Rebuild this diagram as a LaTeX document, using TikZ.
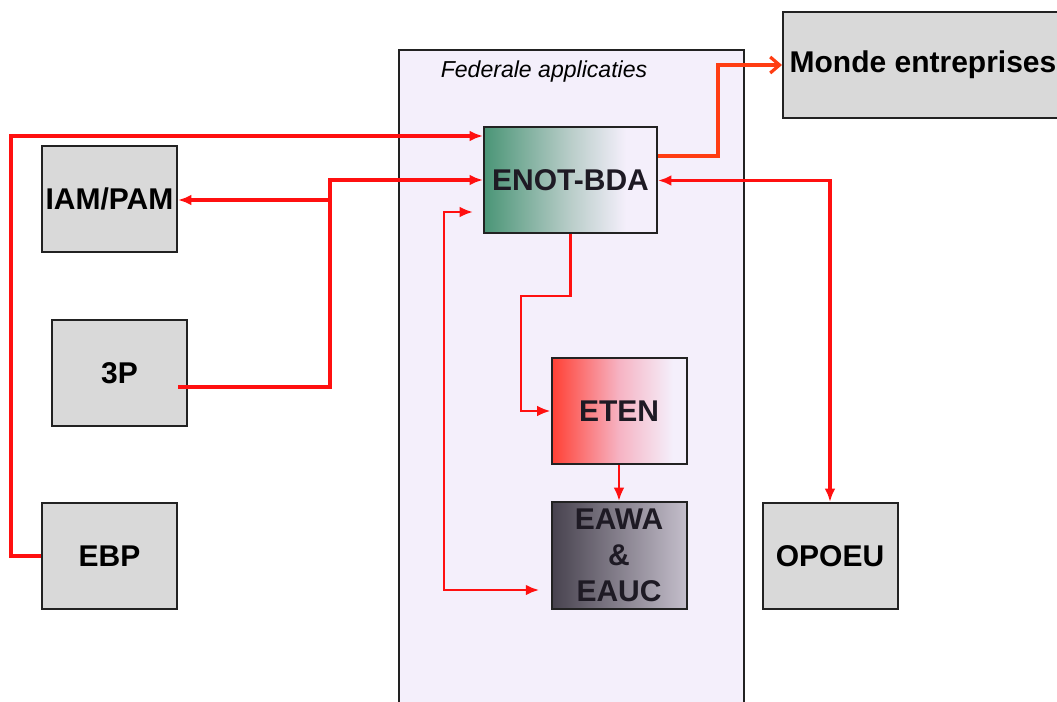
\documentclass[tikz,border=0pt]{standalone}
\usepackage{fontspec}
\setmainfont{Liberation Sans}
\usetikzlibrary{arrows.meta}

\newdimen\upx \upx=0.75pt

\definecolor{lav}{HTML}{F4EFFB}
\definecolor{boxgray}{HTML}{D9D9D9}
\definecolor{edge}{HTML}{222222}
\definecolor{linkred}{HTML}{FF1010}
\definecolor{linkorange}{HTML}{FF3D12}
\definecolor{enotgreen}{HTML}{4A9576}
\definecolor{enotmid}{HTML}{B9CDC9}
\definecolor{etenred}{HTML}{FF3F33}
\definecolor{etenmid}{HTML}{F6B3C3}
\definecolor{eawadark}{HTML}{47424E}
\definecolor{eawalight}{HTML}{C4BECB}
\definecolor{ink}{HTML}{1E1A24}

% horizontal shadings: the 25bp..75bp band spans the node width
\pgfdeclarehorizontalshading{enotshade}{100bp}{color(0bp)=(enotgreen); color(25bp)=(enotgreen); color(50bp)=(enotmid); color(66bp)=(lav); color(100bp)=(lav)}
\pgfdeclarehorizontalshading{etenshade}{100bp}{color(0bp)=(etenred); color(25bp)=(etenred); color(50bp)=(etenmid); color(70bp)=(lav); color(100bp)=(lav)}
\pgfdeclarehorizontalshading{eawashade}{100bp}{color(0bp)=(eawadark); color(25bp)=(eawadark); color(75bp)=(eawalight); color(100bp)=(eawalight)}

\tikzset{
  unit/.style={draw=edge, line width=2\upx, inner sep=0pt,
    minimum width=135\upx, minimum height=106\upx,
    font=\bfseries\fontsize{22.5}{27}\selectfont, align=center},
  graybox/.style={unit, fill=boxgray, text=black},
  appbox/.style={unit, text=ink},
  link/.style={draw=linkred, line width=3.3\upx, line join=miter},
  thinlink/.style={draw=linkred, line width=2.5\upx},
  tip/.style={-{Latex[length=10pt,width=8pt]}},
  bothtips/.style={{Latex[length=10pt,width=8pt]}-{Latex[length=10pt,width=8pt]}},
}

\begin{document}
\begin{tikzpicture}[x=0.75pt,y=-0.75pt]
\useasboundingbox (0,0) rectangle (1057,702);
\begin{scope}
  \clip (0,0) rectangle (1057,702);
  % federal application zone
  \draw[draw=edge, line width=2\upx, fill=lav] (399,50) rectangle (744,720);
  % external partner, running past the right edge
  \node[graybox, minimum width=280\upx, anchor=west] (monde) at (782,65) {Monde entreprises};
\end{scope}

\node[font=\itshape\fontsize{17.3}{20}\selectfont] (zone) at (544,72) {Federale applicaties};

\node[graybox] (iam)   at (109.5,199) {IAM/PAM};
\node[graybox] (tp)    at (119.5,373) {3P};
\node[graybox] (ebp)   at (109.5,556) {EBP};
\node[graybox] (opoeu) at (830,556)   {OPOEU};

\node[appbox, minimum width=173\upx, shading=enotshade] (enot) at (570.5,180.5) {ENOT-BDA};
\node[appbox, shading=etenshade] (eten) at (619,411) {ETEN};
\node[appbox, minimum height=107\upx, shading=eawashade] (eawa) at (619,555.5) {EAWA\\\&\\EAUC};

% routing points
\coordinate (ebpRise) at (11,136);
\coordinate (bus)     at (330,180);
\coordinate (busTap)  at (330,200);
\coordinate (tpOut)   at (178,387);
\coordinate (etenBend) at (521,296);
\coordinate (loopTop) at (444,212);
\coordinate (loopBot) at (444,590);
\coordinate (mondeBend) at (718,156);

% EBP -> ENOT-BDA
\draw[link, tip] (ebp.west) -| (ebpRise) -- (ebpRise -| enot.west);
% 3P -> ENOT-BDA and IAM/PAM
\draw[link, tip] (tpOut) -| (bus) -- (bus -| enot.west);
\draw[link, tip] (busTap) -- (busTap -| iam.east);
% ENOT-BDA -> ETEN
\draw[thinlink, tip] (enot.south) |- (etenBend) |- (eten.west);
% ETEN -> EAWA & EAUC
\draw[thinlink, tip] (eten.south) -- (eawa.north);
% ENOT-BDA <-> EAWA & EAUC
\draw[thinlink, bothtips, shorten <=7.5pt, shorten >=8.5pt]
  (loopTop -| enot.west) -- (loopTop) -- (loopBot) -- (loopBot -| eawa.west);
% ENOT-BDA <-> OPOEU
\draw[link, bothtips] (enot.east) -| (opoeu.north);
% ENOT-BDA -> Monde entreprises
\draw[draw=linkorange, line width=3.6\upx, -{Straight Barb[length=7pt,width=12pt,line width=2.4pt]}]
  (mondeBend -| enot.east) -- (mondeBend) |- (monde.west);
\end{tikzpicture}
\end{document}
